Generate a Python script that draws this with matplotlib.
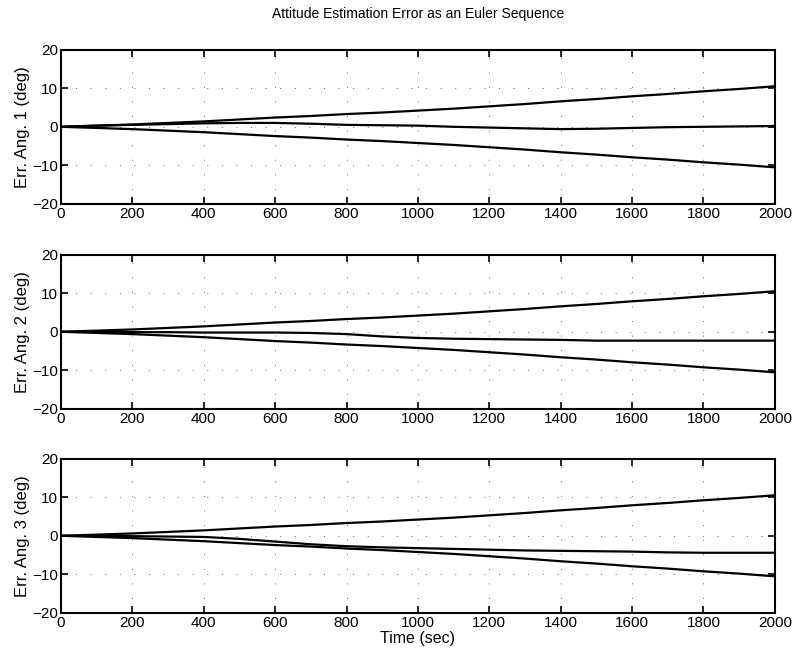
import matplotlib
matplotlib.use("Agg")
import matplotlib.pyplot as plt

plt.rcParams['font.family'] = ['Liberation Sans', 'DejaVu Sans']

# time grid (sec)
t = list(range(0, 2001, 100))

# 3-sigma bound (deg), same for all three angles
bound = [0, 0.3, 0.6, 1.0, 1.4, 1.9, 2.4, 2.8, 3.3, 3.7, 4.2,
         4.7, 5.3, 5.9, 6.6, 7.2, 7.9, 8.5, 9.2, 9.8, 10.5]

# estimation error per Euler angle (deg)
err1 = [0, 0.3, 0.5, 0.7, 0.9, 1.0, 1.0, 0.8, 0.5, 0.4, 0.3,
        0.0, -0.2, -0.4, -0.6, -0.5, -0.3, -0.1, 0.0, 0.1, 0.2]
err2 = [0, 0, -0.1, -0.1, -0.2, -0.2, -0.2, -0.3, -0.6, -1.2, -1.6,
        -1.8, -1.9, -2.0, -2.1, -2.3, -2.3, -2.3, -2.3, -2.3, -2.3]
err3 = [0, 0, -0.1, -0.2, -0.3, -0.8, -1.5, -2.2, -2.7, -3.0, -3.2,
        -3.4, -3.6, -3.8, -3.9, -4.0, -4.1, -4.3, -4.4, -4.4, -4.4]

errors = [err1, err2, err3]
ylabels = ["Err. Ang. 1 (deg)", "Err. Ang. 2 (deg)", "Err. Ang. 3 (deg)"]

fig = plt.figure(figsize=(7.94, 6.57), dpi=100)
bottoms = [0.6895, 0.3775, 0.067]
lower = [-b for b in bound]

for i, (err, lab) in enumerate(zip(errors, ylabels)):
    ax = fig.add_axes([0.0768, bottoms[i], 0.899, 0.235])
    ax.plot(t, bound, color='black', lw=1.6)
    ax.plot(t, lower, color='black', lw=1.6)
    ax.plot(t, err, color='black', lw=1.6)
    ax.set_xlim(0, 2000)
    ax.set_ylim(-20, 20)
    ax.set_xticks(range(0, 2001, 200))
    ax.set_yticks([-20, -10, 0, 10, 20])
    ax.grid(True, color='black', lw=0.7, linestyle=(0, (1, 14)), alpha=0.6)
    ax.tick_params(direction='in', top=True, right=True, length=5, width=1.2,
                   labelsize=11, pad=2)
    for s in ax.spines.values():
        s.set_linewidth(1.5)
    ax.set_ylabel(lab, fontsize=12, labelpad=2)
    if i == 2:
        ax.set_xlabel("Time (sec)", fontsize=11.5, labelpad=1)

fig.text(0.527, 0.978, "Attitude Estimation Error as an Euler Sequence",
         ha='center', va='center', fontsize=10)

fig.savefig("out.png", dpi=100)
